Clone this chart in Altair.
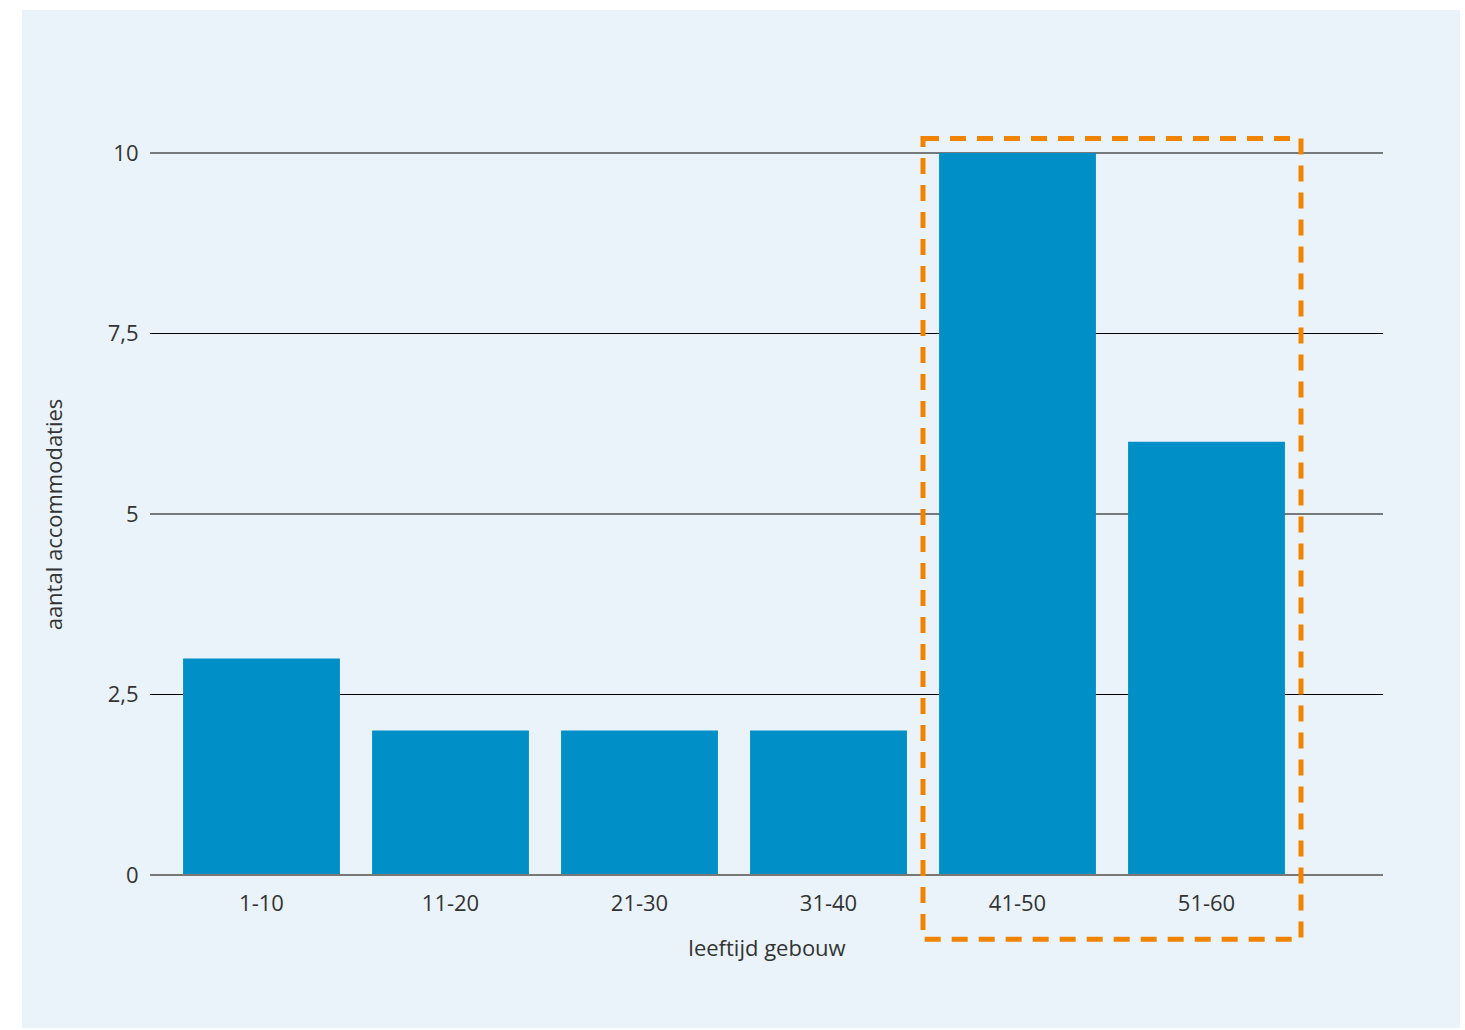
import altair as alt
import pandas as pd

# Number of accommodations per building age class
age_classes = ["1-10", "11-20", "21-30", "31-40", "41-50", "51-60"]
counts = [3, 2, 2, 2, 10, 6]

# Y ticks (shown with a decimal comma)
y_ticks = [0, 2.5, 5, 7.5, 10]

# Highlighted block: from the 5th to the end of the 6th age-class step
box_from = [4]
box_to = [6]
box_top = [10.2]
box_bottom = [-0.89]

BAR = "#008FC7"
PANEL = "#EAF3F9"
ORANGE = "#F08300"
FONT = "Open Sans"
TXT = "#333333"

W, H = 1233, 722

bars_df = pd.DataFrame({"leeftijd": age_classes, "aantal": counts})
ticks_df = pd.DataFrame({"v": y_ticks[1:]})
box_df = pd.DataFrame({"a": box_from, "b": box_to, "t": box_top, "u": box_bottom})

y_scale = alt.Scale(domain=[0, 10], nice=False)

# light backdrop panel behind the whole figure
panel = alt.Chart(pd.DataFrame({"p": [0]})).mark_rect(color=PANEL).encode(
    x=alt.value(-128), x2=alt.value(1310), y=alt.value(-143), y2=alt.value(875)
)

grid = alt.Chart(ticks_df).mark_rule(color="#000000", strokeWidth=1).encode(
    y=alt.Y("v:Q", scale=y_scale)
)

bars = alt.Chart(bars_df).mark_bar(color=BAR).encode(
    x=alt.X(
        "leeftijd:N",
        sort=age_classes,
        scale=alt.Scale(range=[17, 1151], paddingInner=0.17, paddingOuter=0.085),
        axis=alt.Axis(
            title="leeftijd gebouw",
            labelAngle=0,
            domain=False,
            ticks=False,
            labelPadding=18,
            titlePadding=24,
            titleX=W / 2,
            zindex=1,
        ),
    ),
    y=alt.Y(
        "aantal:Q",
        scale=y_scale,
        axis=alt.Axis(
            title="aantal accommodaties",
            values=y_ticks,
            labelExpr="replace(toString(datum.value), '.', ',')",
            domain=False,
            ticks=False,
            grid=False,
            labelPadding=12,
            titlePadding=41,
            zindex=1,
        ),
    ),
)

zero = alt.Chart(pd.DataFrame({"z": [0]})).mark_rule(color="#777777", strokeWidth=2).encode(
    y=alt.Y("z:Q", scale=y_scale)
)

box = alt.Chart(box_df).mark_rect(
    fill=None, stroke=ORANGE, strokeWidth=5, strokeDash=[16, 11]
).encode(
    x=alt.X("a:Q", scale=alt.Scale(domain=[0, 6], range=[17, 1151], nice=False), axis=None),
    x2="b:Q",
    y=alt.Y("t:Q", scale=y_scale),
    y2="u:Q",
)

chart = (
    alt.layer(panel, grid, bars, zero, box)
    .resolve_scale(x="independent")
    .properties(
        width=W,
        height=H,
        background="white",
        padding={"left": 150, "top": 153, "right": 82, "bottom": 155},
        autosize=alt.AutoSizeParams(type="none"),
    )
    .configure_view(stroke=None)
    .configure_axis(
        labelFont=FONT,
        titleFont=FONT,
        labelFontSize=22,
        titleFontSize=22,
        labelColor=TXT,
        titleColor=TXT,
        titleFontWeight="normal",
    )
)

chart.save("out.html", embed_options={"renderer": "svg", "actions": False})
